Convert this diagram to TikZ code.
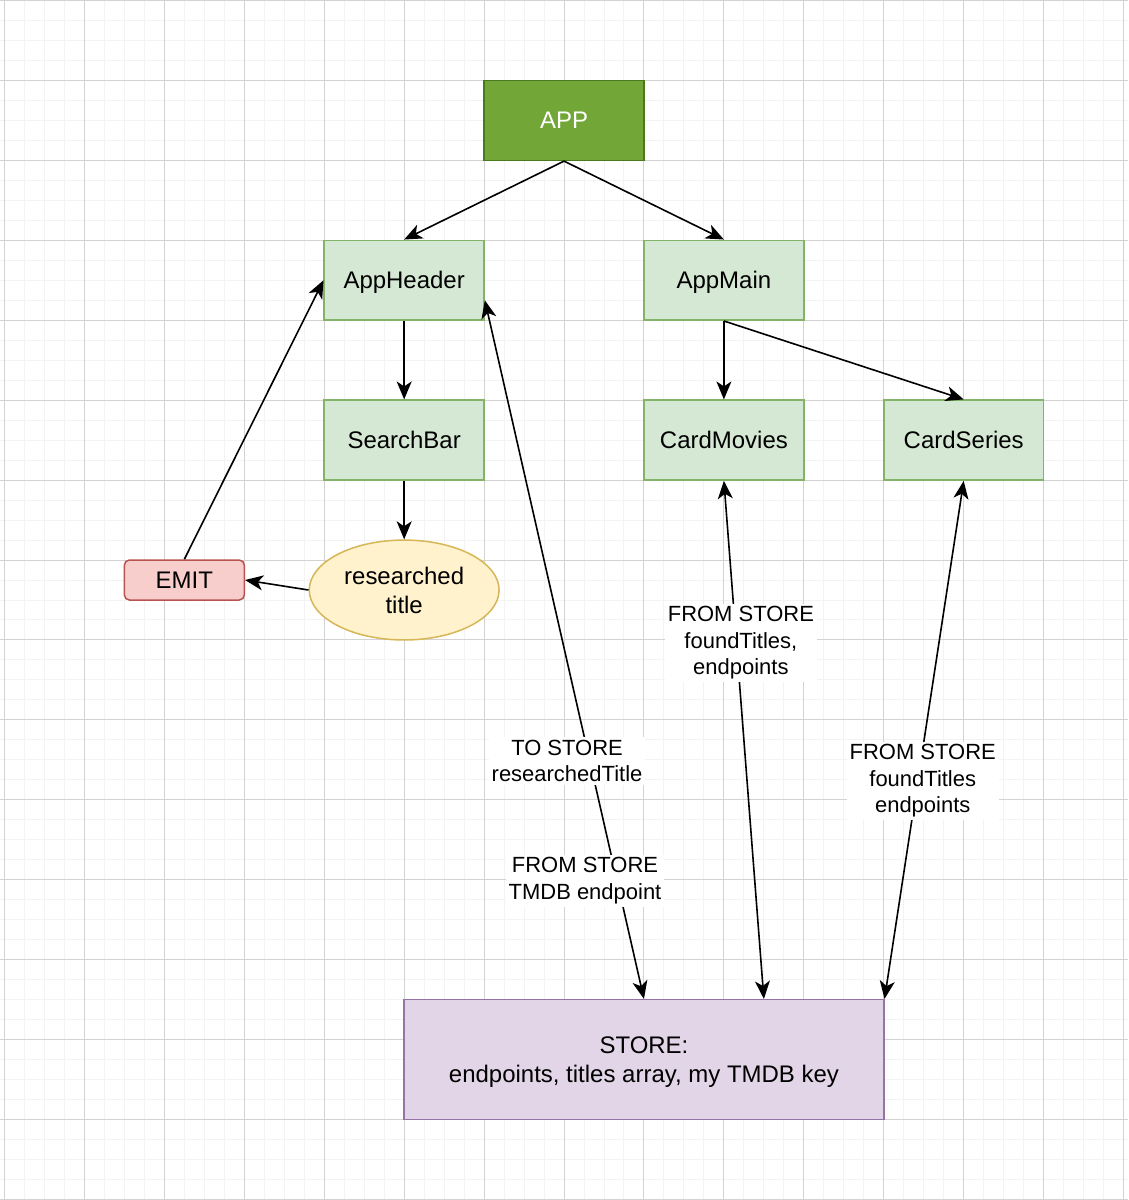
\documentclass[tikz,border=0pt]{standalone}
\usepackage{fontspec}
\setmainfont{Liberation Sans}
\usetikzlibrary{arrows.meta,shapes.geometric,calc}
\definecolor{gfill}{HTML}{D5E8D4}
\definecolor{gline}{HTML}{82B366}
\definecolor{appfill}{HTML}{72A637}
\definecolor{appline}{HTML}{4A7A1E}
\definecolor{rfill}{HTML}{F8CECC}
\definecolor{rline}{HTML}{B85450}
\definecolor{yfill}{HTML}{FFF2CC}
\definecolor{yline}{HTML}{D6B656}
\definecolor{pfill}{HTML}{E1D5E7}
\definecolor{pline}{HTML}{9673A6}
\definecolor{gridminor}{HTML}{F3F3F3}
\definecolor{gridmajor}{HTML}{D3D3D3}
\begin{document}
\begin{tikzpicture}[x=1pt,y=-1pt,
  nodetext/.style={font=\fontsize{24}{28.8}\selectfont, align=center, inner sep=0pt, text depth=0pt},
  greenbox/.style={nodetext, draw=gline, fill=gfill, line width=1.5pt, minimum width=160pt, minimum height=80pt},
  appbox/.style={nodetext, draw=appline, fill=appfill, text=white, line width=1.5pt, minimum width=160pt, minimum height=80pt},
  emitbox/.style={nodetext, draw=rline, fill=rfill, line width=1.5pt, rounded corners=5pt, minimum width=120pt, minimum height=40pt},
  ellbox/.style={nodetext, ellipse, draw=yline, fill=yfill, line width=1.5pt, minimum width=190pt, minimum height=100pt},
  storebox/.style={nodetext, draw=pline, fill=pfill, line width=1.5pt, minimum width=480pt, minimum height=120pt},
  elabel/.style={font=\fontsize{22}{26.4}\selectfont, align=center, fill=white, inner sep=3pt},
  tip/.tip={Stealth[length=18pt,width=15pt,inset=5pt]},
  conn/.style={line width=1.6pt, -tip},
  bothconn/.style={line width=1.6pt, tip-tip}]
% background and grid
\fill[white] (0,0) rectangle (1128,1200);
\foreach \x in {4,24,...,1124} \draw[gridminor, line width=1pt] (\x,0) -- (\x,1200);
\foreach \y in {0,20,...,1200} \draw[gridminor, line width=1pt] (0,\y) -- (1128,\y);
\foreach \x in {4,84,...,1124} \draw[gridmajor, line width=1pt] (\x,0) -- (\x,1200);
\foreach \y in {0,80,...,1200} \draw[gridmajor, line width=1pt] (0,\y) -- (1128,\y);
\useasboundingbox (0,0) rectangle (1128,1200);
% nodes
\node[appbox] (app) at (564,120) {APP};
\node[greenbox] (apphdr) at (404,280) {AppHeader};
\node[greenbox] (appmain) at (724,280) {AppMain};
\node[greenbox] (search) at (404,440) {SearchBar};
\node[greenbox] (movies) at (724,440) {CardMovies};
\node[greenbox] (series) at (964,440) {CardSeries};
\node[emitbox] (emit) at (184,580) {EMIT};
\node[ellbox] (title) at (404,590) {researched\\title};
\node[storebox] (store) at (644,1060) {STORE:\\endpoints, titles array, my TMDB key};
% connectors
\draw[conn] (app.south) -- (apphdr.north);
\draw[conn] (app.south) -- (appmain.north);
\draw[conn] (apphdr.south) -- (search.north);
\draw[conn] (appmain.south) -- (movies.north);
\draw[conn] (appmain.south) -- (series.north);
\draw[conn] (search.south) -- (title.north);
\draw[conn] (title.west) -- (emit.east);
\draw[conn] (emit.north) -- (apphdr.west);
\draw[bothconn] ([yshift=-20pt]apphdr.east) -- (store.north);
\draw[bothconn] (movies.south) -- ([xshift=120pt]store.north);
\draw[bothconn] (series.south) -- (store.north east);
% edge labels
\node[elabel] (l1) at (567,761) {TO STORE\\researchedTitle};
\node[elabel] (l2) at (585,881) {FROM STORE\\TMDB endpoint};
\node[elabel] (l3) at (741,643) {FROM STORE\\foundTitles,\\endpoints};
\node[elabel] (l4) at (923,781) {FROM STORE\\foundTitles\\endpoints};
\end{tikzpicture}
\end{document}
